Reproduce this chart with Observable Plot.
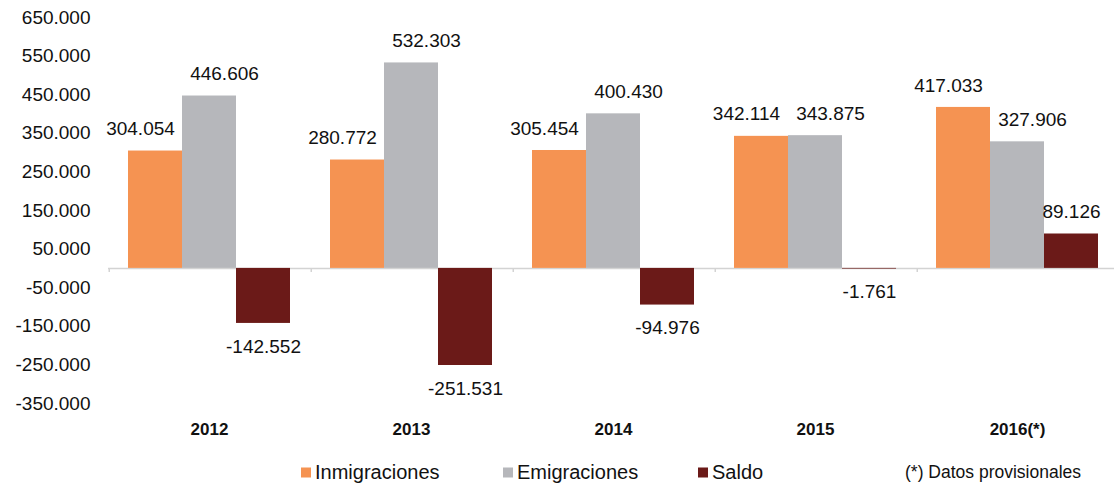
<!DOCTYPE html>
<html>
<head>
<meta charset="utf-8">
<script src="https://cdn.jsdelivr.net/npm/d3@7"></script>
<script src="https://cdn.jsdelivr.net/npm/@observablehq/plot@0.6"></script>
<style>
  html, body { margin: 0; padding: 0; background: #fff; }
  #wrap { position: relative; width: 1114px; height: 486px; font-family: "Liberation Sans", Arial, sans-serif; color: #111; }
  #legend { position: absolute; left: 0; top: 452px; width: 1114px; height: 34px; }
  .item { position: absolute; top: 20px; transform: translateY(-50%); display: flex; align-items: center; font-size: 20px; white-space: nowrap; }
  .sw { width: 10px; height: 10px; margin-right: 4px; }
  .note { font-size: 17.5px; }
</style>
</head>
<body>
<div id="wrap"><div id="chart"></div><div id="legend"></div></div>
<script>
const years = ["2012", "2013", "2014", "2015", "2016(*)"];
const series = ["Inmigraciones", "Emigraciones", "Saldo"];
const inmigraciones = [304054, 280772, 305454, 342114, 417033];
const emigraciones = [446606, 532303, 400430, 343875, 327906];
const saldo = [-142552, -251531, -94976, -1761, 89126];
const yTicks = [650000, 550000, 450000, 350000, 250000, 150000, 50000, -50000, -150000, -250000, -350000];
const colors = ["#f59352", "#b6b7bb", "#6b1a18"];
const noteText = "(*) Datos provisionales";

const values = [inmigraciones, emigraciones, saldo];
const data = years.flatMap((year, i) => series.map((serie, s) => ({year, serie, value: values[s][i]})));

const es = d3.formatLocale({decimal: ",", thousands: ".", grouping: [3], currency: ["", "€"], minus: "-"});
const fmt = es.format(",");

const labelDx = {"Inmigraciones": -15, "Emigraciones": 15, "Saldo": 0};

const textMarks = series.flatMap(s => [
  Plot.text(data.filter(d => d.serie === s && d.value >= 0), {
    fx: "year", x: "serie", y: "value", text: d => fmt(d.value),
    dx: labelDx[s], dy: -22, fontSize: 19, fill: "#111"
  }),
  Plot.text(data.filter(d => d.serie === s && d.value < 0), {
    fx: "year", x: "serie", y: "value", text: d => fmt(d.value),
    dx: labelDx[s], dy: 23, fontSize: 19, fill: "#111"
  })
]);

const chart = Plot.plot({
  width: 1114,
  height: 452,
  marginLeft: 107,
  marginRight: -5.5,
  marginTop: 17,
  marginBottom: 49,
  style: {fontFamily: "'Liberation Sans', Arial, sans-serif", color: "#111", background: "#fff"},
  fx: {domain: years, padding: 0, label: null},
  x: {domain: series, paddingInner: 0, paddingOuter: 0.341, axis: null},
  y: {domain: [-350000, 650000], label: null},
  color: {domain: series, range: colors},
  marks: [
    Plot.axisY({ticks: yTicks, tickFormat: fmt, tickSize: 0, tickPadding: 18, fontSize: 19, label: null, fill: "#111"}),
    Plot.axisFx({anchor: "bottom", tickSize: 0, tickPadding: 19, fontSize: 17, fontWeight: "bold", label: null, fill: "#111"}),
    Plot.ruleY([0], {stroke: "#d3d3d3", strokeWidth: 1.5}),
    Plot.tickX(years, {fx: d => d, x: () => series[0], dx: -46.25, insetTop: 251, insetBottom: 131, stroke: "#d3d3d3", strokeWidth: 1.5}),
    Plot.barY(data, {fx: "year", x: "serie", y: "value", fill: "serie"}),
    ...textMarks
  ]
});
document.getElementById("chart").appendChild(chart);

const legend = document.getElementById("legend");
const lefts = [301, 503, 698];
series.forEach((s, i) => {
  const el = document.createElement("div");
  el.className = "item";
  el.style.left = lefts[i] + "px";
  el.innerHTML = `<span class="sw" style="background:${colors[i]}"></span><span>${s}</span>`;
  legend.appendChild(el);
});
const note = document.createElement("div");
note.className = "item note";
note.style.left = "905px";
note.textContent = noteText;
legend.appendChild(note);
</script>
</body>
</html>
